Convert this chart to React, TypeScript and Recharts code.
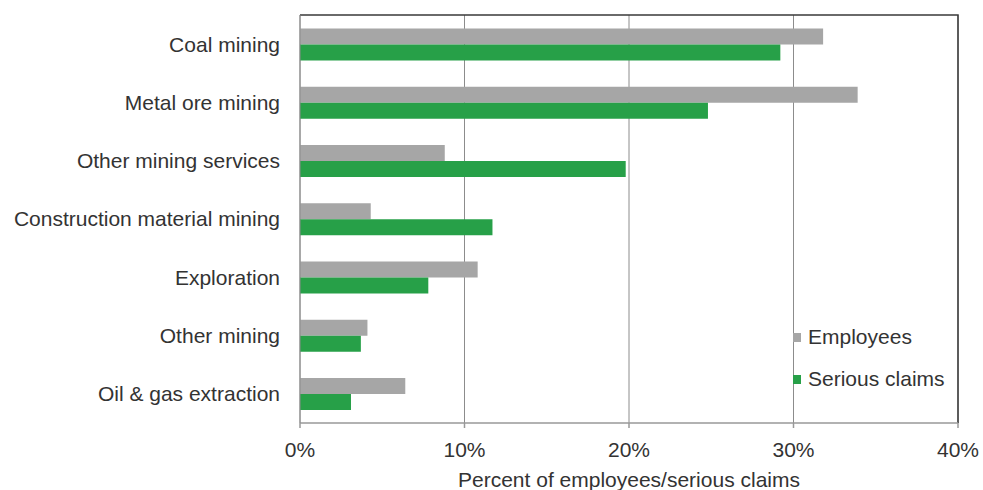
import { BarChart, Bar, XAxis, YAxis, CartesianGrid, Legend, ReferenceArea } from 'recharts';

// Industry sectors, top to bottom
const sectors = [
    'Coal mining',
    'Metal ore mining',
    'Other mining services',
    'Construction material mining',
    'Exploration',
    'Other mining',
    'Oil & gas extraction',
];

// Percent of employees / serious claims by sector
const employees = [31.8, 33.9, 8.8, 4.3, 10.8, 4.1, 6.4];
const seriousClaims = [29.2, 24.8, 19.8, 11.7, 7.8, 3.7, 3.1];

const xTicks = [0, 10, 20, 30, 40];

const series = [
    { key: 'employees', name: 'Employees', color: '#a6a6a6' },
    { key: 'claims', name: 'Serious claims', color: '#27a048' },
];

const data = sectors.map((sector, i) => ({
    sector,
    employees: employees[i],
    claims: seriousClaims[i],
}));

const FONT = '"Liberation Sans", Arial, sans-serif';
const TEXT = '#333333';

function renderLegend() {
    return (
        <div style={{ fontFamily: FONT, fontSize: 21, color: TEXT }}>
            {series.map(s => (
                <div key={s.key} style={{ display: 'flex', alignItems: 'center', height: 42 }}>
                    <span style={{ display: 'inline-block', width: 8, height: 9, background: s.color, marginRight: 7 }} />
                    <span>{s.name}</span>
                </div>
            ))}
        </div>
    );
}

export default function App() {
    return (
        <div style={{ position: 'absolute', left: 0, top: 0, fontFamily: FONT }}>
            <BarChart
                width={983}
                height={490}
                data={data}
                layout="vertical"
                margin={{ top: 15, right: 25, bottom: 0, left: 0 }}
                barCategoryGap="23%"
                barGap={0}
            >
                <CartesianGrid horizontal={false} stroke="#8c8c8c" />
                <XAxis
                    type="number"
                    domain={[0, 40]}
                    ticks={xTicks}
                    tickFormatter={(v: number) => `${v}%`}
                    height={67}
                    tickSize={5}
                    tickMargin={14}
                    stroke="#999999"
                    strokeWidth={1.5}
                    tick={{ fill: TEXT, fontSize: 21, fontFamily: FONT }}
                    label={{
                        value: 'Percent of employees/serious claims',
                        position: 'insideBottom',
                        offset: 3,
                        fill: TEXT,
                        fontSize: 21,
                        fontFamily: FONT,
                    }}
                />
                <YAxis
                    type="category"
                    dataKey="sector"
                    width={300}
                    tickLine={false}
                    tickSize={0}
                    tickMargin={20}
                    stroke="#8c8c8c"
                    tick={{ fill: TEXT, fontSize: 21, fontFamily: FONT }}
                    interval={0}
                />
                <ReferenceArea
                    x1={0}
                    x2={40}
                    fill="none"
                    stroke="#3a3a3a"
                    strokeWidth={1.5}
                    strokeDasharray="1066 2000"
                    ifOverflow="visible"
                />
                {series.map(s => (
                    <Bar
                        key={s.key}
                        dataKey={s.key}
                        name={s.name}
                        fill={s.color}
                        isAnimationActive={false}
                    />
                ))}
                <Legend
                    layout="vertical"
                    align="center"
                    verticalAlign="middle"
                    content={renderLegend}
                    wrapperStyle={{ left: 793, top: 316, width: 'auto' }}
                />
            </BarChart>
        </div>
    );
}
